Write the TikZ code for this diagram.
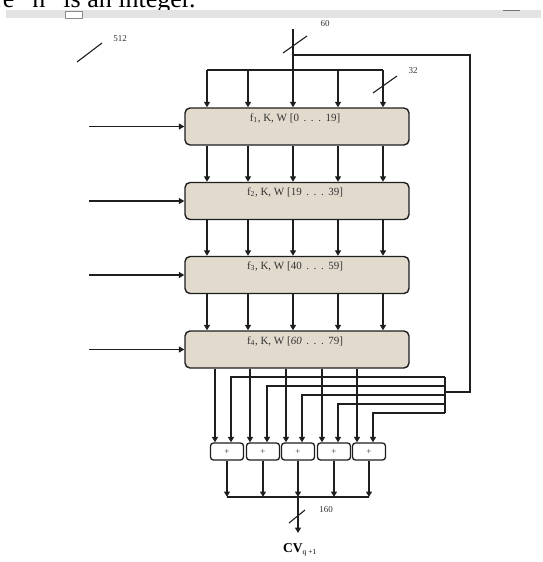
\documentclass[tikz,border=0pt]{standalone}
\usepackage{fontspec}
\setmainfont{Liberation Serif}
\usetikzlibrary{arrows.meta}
\definecolor{boxfill}{HTML}{E2DACD}
\definecolor{ink}{HTML}{1E1E1E}
\definecolor{txt}{HTML}{333333}
\begin{document}
\begin{tikzpicture}[x=1pt,y=-1pt,
  wire/.style={draw=ink, line width=1.4pt},
  arr/.style={wire, -{Triangle[length=5.5pt,width=6pt]}},
  slash/.style={draw=ink, line width=1.1pt},
  roundbox/.style={draw=ink, line width=1.4pt, fill=boxfill, rounded corners=5pt,
    minimum width=224pt, minimum height=37pt, inner sep=0pt},
  boxtext/.style={text=txt, font=\fontsize{11}{12}\selectfont, inner sep=0pt},
  adder/.style={draw=ink, line width=1.3pt, fill=white, rounded corners=3pt,
    minimum width=33pt, minimum height=17pt, inner sep=0pt, text=txt,
    font=\fontsize{9}{10}\selectfont},
  small/.style={text=txt, font=\fontsize{9}{10}\selectfont, inner sep=0pt}
]
\useasboundingbox (0,0) rectangle (542,562);
\clip (0,0) rectangle (542,562);

% page furniture at the top
\node[anchor=base west, inner sep=0pt, font=\fontsize{26}{26}\selectfont] (toptext) at (-6,8) {re “n” is an integer.};
\fill[black!11] (6,10) rectangle (541,18);
\draw[black!45, fill=white, line width=0.8pt] (65,11) rectangle (82,18);
\draw[black!55, line width=0.8pt] (503,10) -- (520,10);

% main boxes
\node[roundbox] (b1) at (297,126.5) {};
\node[roundbox] (b2) at (297,201) {};
\node[roundbox] (b3) at (297,275) {};
\node[roundbox] (b4) at (297,349.5) {};
\newcommand\dotsgap{\ \,.\ \,.\ \,.\ \,}
\node[boxtext] (t1) at (295,118) {f\textsubscript{1}, K, W [0\dotsgap 19]};
\node[boxtext] (t2) at (295,192) {f\textsubscript{2}, K, W [19\dotsgap 39]};
\node[boxtext] (t3) at (295,266) {f\textsubscript{3}, K, W [40\dotsgap 59]};
\node[boxtext] (t4) at (295,341) {f\textsubscript{4}, K, W [\textit{60}\dotsgap 79]};

% column coordinates
\coordinate (c1) at (207,0);
\coordinate (c2) at (248,0);
\coordinate (c3) at (293,0);
\coordinate (c4) at (338,0);
\coordinate (c5) at (383,0);

% top input
\coordinate (tin) at (293,29);
\coordinate (bus) at (0,70);
\coordinate (tj) at (293,55);
\draw[wire] (tin) -- (tin |- bus);
\draw[wire] (c1 |- bus) -- (c5 |- bus);
\foreach \c in {c1,c2,c3,c4,c5}{
  \draw[arr] (\c |- bus) -- (b1.north -| \c);
  \draw[arr] (b1.south -| \c) -- (b2.north -| \c);
  \draw[arr] (b2.south -| \c) -- (b3.north -| \c);
  \draw[arr] (b3.south -| \c) -- (b4.north -| \c);
}

% left inputs
\foreach \b in {b1,b2,b3,b4}{
  \coordinate (in\b) at (89,0);
  \draw[arr] (in\b |- \b.west) -- (\b.west);
}

% adders
\node[adder] (a1) at (227,451.5) {+};
\node[adder] (a2) at (263,451.5) {+};
\node[adder] (a3) at (298,451.5) {+};
\node[adder] (a4) at (334,451.5) {+};
\node[adder] (a5) at (369,451.5) {+};

% outputs of box 4 to adders
\coordinate (o1) at (215,0);
\coordinate (o2) at (250,0);
\coordinate (o3) at (286,0);
\coordinate (o4) at (322,0);
\coordinate (o5) at (357,0);
\foreach \i in {1,...,5}{
  \draw[arr] (b4.south -| o\i) -- (a\i.north -| o\i);
}

% feedback loop
\coordinate (rc) at (470,55);
\coordinate (rb) at (470,392);
\coordinate (rl) at (445,392);
\draw[wire] (tj) -- (rc) -- (rb) -- (rl);
\coordinate (r1) at (445,377);
\coordinate (r2) at (445,386);
\coordinate (r3) at (445,395);
\coordinate (r4) at (445,404);
\coordinate (r5) at (445,413);
\draw[wire] (r1) -- (r5);
\coordinate (f1) at (231,0);
\coordinate (f2) at (267,0);
\coordinate (f3) at (302,0);
\coordinate (f4) at (338,0);
\coordinate (f5) at (373,0);
\foreach \i in {1,...,5}{
  \draw[arr] (r\i) -| (a\i.north -| f\i);
}

% outputs of adders
\coordinate (sum) at (0,497);
\foreach \i in {1,...,5}{
  \draw[arr] (a\i.south) -- (a\i.south |- sum);
}
\draw[wire] (a1.south |- sum) -- (a5.south |- sum);
\node[inner sep=1pt, anchor=north] (cv) at (300,542) {\fontsize{13.5}{15}\selectfont\textbf{CV}\textsubscript{\fontsize{7.5}{8}\selectfont q +1}};
\coordinate (cvtip) at (298,533);
\draw[arr] (a3.south |- sum) -- (cvtip);

% bus width markers
\draw[slash] (283,53) -- (307,36);
\node[small] (l60) at (325,24) {60};
\draw[slash] (77,62) -- (102,43);
\node[small] (l512) at (120,39) {512};
\draw[slash] (373,93) -- (397,76);
\node[small] (l32) at (413,71) {32};
\draw[slash] (289,523) -- (305,510);
\node[small] (l160) at (326,510) {160};
\end{tikzpicture}
\end{document}
